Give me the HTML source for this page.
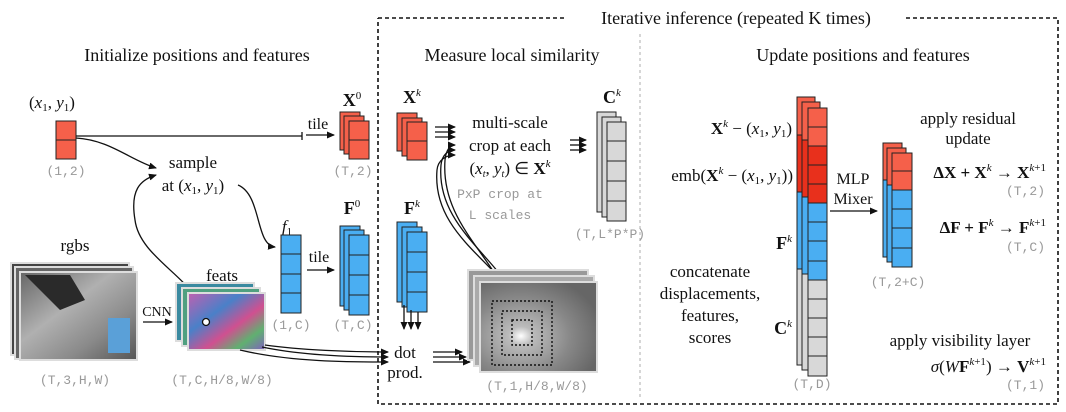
<!DOCTYPE html>
<html><head><meta charset="utf-8"><style>
body{margin:0;background:#fff}
svg{display:block}
.s{font-family:"Liberation Serif",serif;fill:#111}
.m{font-family:"Liberation Mono",monospace;fill:#999;font-size:13px}
.r{fill:#f5604a;stroke:#222;stroke-width:1}
.rd{fill:#e8301c;stroke:#222;stroke-width:1}
.b{fill:#4aaef2;stroke:#222;stroke-width:1}
.g{fill:#d8d8d8;stroke:#222;stroke-width:1}
.l{stroke:#111;stroke-width:1.3;fill:none}
</style></head><body>
<svg width="1066" height="412" viewBox="0 0 1066 412" xmlns="http://www.w3.org/2000/svg">
<defs>
<marker id="a" markerWidth="8" markerHeight="8" refX="7" refY="4" orient="auto" markerUnits="userSpaceOnUse"><path d="M0,0.5 L8,4 L0,7.5z" fill="#111"/></marker>
<linearGradient id="img1" x1="0" y1="0" x2="1" y2="1"><stop offset="0" stop-color="#666"/><stop offset="0.4" stop-color="#b0b0b0"/><stop offset="0.7" stop-color="#8a8a8a"/><stop offset="1" stop-color="#555"/></linearGradient>
<linearGradient id="img2" x1="0" y1="0" x2="1" y2="1"><stop offset="0" stop-color="#c060b0"/><stop offset="0.35" stop-color="#4a80c8"/><stop offset="0.6" stop-color="#d05090"/><stop offset="0.8" stop-color="#60b070"/><stop offset="1" stop-color="#8060c0"/></linearGradient>
<radialGradient id="img3" cx="0.35" cy="0.6" r="0.7"><stop offset="0" stop-color="#fff"/><stop offset="0.15" stop-color="#bbb"/><stop offset="0.6" stop-color="#888"/><stop offset="1" stop-color="#666"/></radialGradient>
</defs>

<!-- dashed box -->
<path d="M378,18 L566,18 M906,18 L1058,18 L1058,404 L378,404 L378,18" fill="none" stroke="#111" stroke-width="1.6" stroke-dasharray="4,3"/>
<text x="736" y="24" text-anchor="middle" class="s" font-size="18">Iterative inference (repeated K times)</text>
<line x1="640" y1="34" x2="640" y2="398" stroke="#bbb" stroke-width="1.2" stroke-dasharray="3,3"/>

<text x="197" y="61" text-anchor="middle" class="s" font-size="18">Initialize positions and features</text>
<text x="512" y="61" text-anchor="middle" class="s" font-size="18">Measure local similarity</text>
<text x="863" y="61" text-anchor="middle" class="s" font-size="18">Update positions and features</text>

<!-- (x1,y1) -->
<text x="29" y="108" class="s" font-size="17">(<tspan font-style="italic">x</tspan><tspan font-size="11" dy="3">1</tspan><tspan dy="-3">, </tspan><tspan font-style="italic">y</tspan><tspan font-size="11" dy="3">1</tspan><tspan dy="-3">)</tspan></text>
<rect x="56" y="121" width="20" height="38" class="r"/><line x1="56" y1="140" x2="76" y2="140" stroke="#222"/>
<text x="66" y="175" text-anchor="middle" class="m">(1,2)</text>
<line x1="76" y1="136" x2="302" y2="136" class="l"/><line x1="302" y1="132" x2="302" y2="140" class="l"/>
<line x1="306" y1="135" x2="334" y2="135" class="l" marker-end="url(#a)"/>
<text x="318" y="129" text-anchor="middle" class="s" font-size="16">tile</text>
<path d="M76,138 C110,140 130,160 156,168" class="l" marker-end="url(#a)"/>
<text x="193" y="168" text-anchor="middle" class="s" font-size="17">sample</text>
<text x="193" y="191" class="s" font-size="17" text-anchor="middle">at (<tspan font-style="italic">x</tspan><tspan font-size="11" dy="3">1</tspan><tspan dy="-3">, </tspan><tspan font-style="italic">y</tspan><tspan font-size="11" dy="3">1</tspan><tspan dy="-3">)</tspan></text>
<path d="M238,185 C262,195 255,245 275,247" class="l" marker-end="url(#a)"/>
<path d="M206,320 C200,280 140,260 135,220 C130,190 140,180 156,175" class="l" marker-end="url(#a)"/>

<!-- X0 -->
<text x="352" y="106" text-anchor="middle" class="s" font-size="18" font-weight="bold">X<tspan font-size="11" font-weight="normal" dy="-7">0</tspan></text>
<rect x="340" y="112" width="20" height="38" class="r"/><rect x="344" y="116" width="20" height="38" class="r"/><rect x="349" y="121" width="20" height="38" class="r"/><line x1="349" y1="140" x2="369" y2="140" stroke="#222"/>
<text x="353" y="175" text-anchor="middle" class="m">(T,2)</text>

<!-- f1 -->
<text x="287" y="232" text-anchor="middle" class="s" font-size="17" font-style="italic">f<tspan font-size="11" font-style="normal" dy="3">1</tspan></text>
<rect x="281" y="235" width="20" height="78" class="b"/>
<line x1="281" y1="254" x2="301" y2="254" stroke="#222"/><line x1="281" y1="274" x2="301" y2="274" stroke="#222"/><line x1="281" y1="293" x2="301" y2="293" stroke="#222"/>
<text x="291" y="329" text-anchor="middle" class="m">(1,C)</text>
<line x1="307" y1="270" x2="334" y2="270" class="l" marker-end="url(#a)"/>
<text x="319" y="262" text-anchor="middle" class="s" font-size="16">tile</text>
<text x="352" y="214" text-anchor="middle" class="s" font-size="18" font-weight="bold">F<tspan font-size="11" font-weight="normal" dy="-7">0</tspan></text>
<rect x="340" y="226" width="20" height="80" class="b"/><rect x="344" y="230" width="20" height="80" class="b"/><rect x="349" y="235" width="20" height="80" class="b"/>
<line x1="349" y1="255" x2="369" y2="255" stroke="#222"/><line x1="349" y1="275" x2="369" y2="275" stroke="#222"/><line x1="349" y1="295" x2="369" y2="295" stroke="#222"/>
<text x="353" y="329" text-anchor="middle" class="m">(T,C)</text>

<!-- rgbs -->
<text x="75" y="251" text-anchor="middle" class="s" font-size="17">rgbs</text>
<rect x="11" y="263" width="118" height="92" fill="#444" stroke="#ddd" stroke-width="2"/>
<rect x="15" y="267" width="118" height="92" fill="#666" stroke="#ddd" stroke-width="2"/>
<rect x="20" y="272" width="117" height="88" fill="url(#img1)" stroke="#ddd" stroke-width="2"/>
<path d="M25,275 L70,275 L85,300 L60,310 Z" fill="#2a2a2a"/>
<rect x="108" y="318" width="22" height="35" fill="#5aa0d8"/>
<text x="75" y="384" text-anchor="middle" class="m">(T,3,H,W)</text>
<text x="157" y="316" text-anchor="middle" class="s" font-size="14">CNN</text>
<line x1="143" y1="322" x2="172" y2="322" class="l" marker-end="url(#a)"/>

<!-- feats -->
<text x="222" y="281" text-anchor="middle" class="s" font-size="17">feats</text>
<rect x="176" y="283" width="78" height="58" fill="#3a8aa0" stroke="#ddd" stroke-width="2"/>
<rect x="182" y="288" width="78" height="58" fill="#50a080" stroke="#ddd" stroke-width="2"/>
<rect x="188" y="293" width="77" height="57" fill="url(#img2)" stroke="#ddd" stroke-width="2"/>
<circle cx="206" cy="322" r="3.5" fill="#fff" stroke="#111" stroke-width="1.3"/>
<text x="222" y="384" text-anchor="middle" class="m">(T,C,H/8,W/8)</text>
<path d="M265,345 C300,350 350,352 388,352" class="l" marker-end="url(#a)"/>
<path d="M262,347 C300,355 350,357 388,357" class="l" marker-end="url(#a)"/>
<path d="M240,350 C290,362 350,362 388,362" class="l" marker-end="url(#a)"/>

<!-- Xk -->
<text x="412" y="103" text-anchor="middle" class="s" font-size="18" font-weight="bold">X<tspan font-size="11" font-weight="normal" font-style="italic" dy="-7">k</tspan></text>
<rect x="397" y="113" width="20" height="38" class="r"/><rect x="402" y="118" width="20" height="38" class="r"/><rect x="407" y="122" width="20" height="38" class="r"/><line x1="407" y1="141" x2="427" y2="141" stroke="#222"/>
<line x1="435" y1="127" x2="455" y2="127" class="l" marker-end="url(#a)"/>
<line x1="435" y1="132" x2="455" y2="132" class="l" marker-end="url(#a)"/>
<line x1="435" y1="137" x2="455" y2="137" class="l" marker-end="url(#a)"/>
<path d="M520,330 C505,260 440,230 445,160 C446,150 450,145 455,145" class="l" marker-end="url(#a)"/>
<path d="M517,300 C495,255 436,225 441,165 C442,155 448,150 455,150" class="l" marker-end="url(#a)"/>
<path d="M514,297 C490,258 432,230 437,170 C438,160 446,155 455,155" class="l" marker-end="url(#a)"/>
<text x="510" y="128" text-anchor="middle" class="s" font-size="17">multi-scale</text>
<text x="510" y="151" text-anchor="middle" class="s" font-size="17">crop at each</text>
<text x="510" y="174" text-anchor="middle" class="s" font-size="17">(<tspan font-style="italic">x</tspan><tspan font-size="10" font-style="italic" dy="3">t</tspan><tspan dy="-3">, </tspan><tspan font-style="italic">y</tspan><tspan font-size="10" font-style="italic" dy="3">t</tspan><tspan dy="-3">) ∈ </tspan><tspan font-weight="bold">X</tspan><tspan font-size="11" font-style="italic" dy="-7">k</tspan></text>
<text x="500" y="198" text-anchor="middle" class="m" font-size="15">PxP crop at</text>
<text x="500" y="219" text-anchor="middle" class="m" font-size="15">L scales</text>
<line x1="570" y1="140" x2="586" y2="140" class="l" marker-end="url(#a)"/>
<line x1="570" y1="145" x2="586" y2="145" class="l" marker-end="url(#a)"/>
<line x1="570" y1="150" x2="586" y2="150" class="l" marker-end="url(#a)"/>

<!-- Ck -->
<text x="612" y="103" text-anchor="middle" class="s" font-size="18" font-weight="bold">C<tspan font-size="11" font-weight="normal" font-style="italic" dy="-7">k</tspan></text>
<rect x="597" y="112" width="19" height="100" class="g"/><rect x="602" y="117" width="19" height="100" class="g"/><rect x="607" y="122" width="19" height="99" class="g"/>
<line x1="607" y1="141" x2="626" y2="141" stroke="#222"/><line x1="607" y1="161" x2="626" y2="161" stroke="#222"/><line x1="607" y1="181" x2="626" y2="181" stroke="#222"/><line x1="607" y1="201" x2="626" y2="201" stroke="#222"/>
<text x="610" y="238" text-anchor="middle" class="m">(T,L*P*P)</text>

<!-- Fk -->
<text x="412" y="214" text-anchor="middle" class="s" font-size="18" font-weight="bold">F<tspan font-size="11" font-weight="normal" font-style="italic" dy="-7">k</tspan></text>
<rect x="397" y="222" width="20" height="80" class="b"/><rect x="402" y="227" width="20" height="80" class="b"/><rect x="407" y="232" width="20" height="80" class="b"/>
<line x1="407" y1="252" x2="427" y2="252" stroke="#222"/><line x1="407" y1="272" x2="427" y2="272" stroke="#222"/><line x1="407" y1="292" x2="427" y2="292" stroke="#222"/>
<line x1="404" y1="305" x2="404" y2="329" class="l" marker-end="url(#a)"/>
<line x1="411" y1="310" x2="411" y2="329" class="l" marker-end="url(#a)"/>
<line x1="418" y1="312" x2="418" y2="329" class="l" marker-end="url(#a)"/>
<text x="405" y="358" text-anchor="middle" class="s" font-size="17">dot</text>
<text x="405" y="378" text-anchor="middle" class="s" font-size="17">prod.</text>
<line x1="433" y1="352" x2="462" y2="352" class="l" marker-end="url(#a)"/>
<line x1="433" y1="357" x2="466" y2="357" class="l" marker-end="url(#a)"/>
<line x1="433" y1="362" x2="470" y2="362" class="l" marker-end="url(#a)"/>

<!-- similarity image -->
<rect x="468" y="270" width="120" height="90" fill="#999" stroke="#ddd" stroke-width="2"/>
<rect x="474" y="276" width="120" height="90" fill="#aaa" stroke="#ddd" stroke-width="2"/>
<rect x="480" y="282" width="117" height="90" fill="url(#img3)" stroke="#ddd" stroke-width="2"/>
<rect x="492" y="301" width="60" height="64" fill="none" stroke="#111" stroke-width="1.4" stroke-dasharray="2,2"/>
<rect x="502" y="311" width="40" height="44" fill="none" stroke="#111" stroke-width="1.4" stroke-dasharray="2,2"/>
<rect x="512" y="320" width="20" height="25" fill="none" stroke="#111" stroke-width="1.4" stroke-dasharray="2,2"/>
<text x="537" y="390" text-anchor="middle" class="m">(T,1,H/8,W/8)</text>

<!-- tall stack -->
<g>
<rect x="797" y="97" width="18" height="268" class="g"/>
<rect x="797" y="97" width="18" height="38" class="r"/><rect x="797" y="135" width="18" height="57" class="rd"/><rect x="797" y="192" width="18" height="77" class="b"/>
<rect x="802" y="102" width="18" height="268" class="g"/>
<rect x="802" y="102" width="18" height="38" class="r"/><rect x="802" y="140" width="18" height="57" class="rd"/><rect x="802" y="197" width="18" height="77" class="b"/>
<rect x="808" y="108" width="19" height="268" class="g"/>
<rect x="808" y="108" width="19" height="38" class="r"/><rect x="808" y="146" width="19" height="57" class="rd"/><rect x="808" y="203" width="19" height="77" class="b"/>
<g stroke="#222"><line x1="808" y1="127" x2="827" y2="127"/><line x1="808" y1="165" x2="827" y2="165"/><line x1="808" y1="184" x2="827" y2="184"/><line x1="808" y1="222" x2="827" y2="222"/><line x1="808" y1="241" x2="827" y2="241"/><line x1="808" y1="261" x2="827" y2="261"/><line x1="808" y1="299" x2="827" y2="299"/><line x1="808" y1="318" x2="827" y2="318"/><line x1="808" y1="337" x2="827" y2="337"/><line x1="808" y1="356" x2="827" y2="356"/></g>
</g>
<text x="812" y="388" text-anchor="middle" class="m">(T,D)</text>
<text x="792" y="134" text-anchor="end" class="s" font-size="17"><tspan font-weight="bold">X</tspan><tspan font-size="11" font-style="italic" dy="-7">k</tspan><tspan dy="7"> − (</tspan><tspan font-style="italic">x</tspan><tspan font-size="11" dy="3">1</tspan><tspan dy="-3">, </tspan><tspan font-style="italic">y</tspan><tspan font-size="11" dy="3">1</tspan><tspan dy="-3">)</tspan></text>
<text x="793" y="181" text-anchor="end" class="s" font-size="17">emb(<tspan font-weight="bold">X</tspan><tspan font-size="11" font-style="italic" dy="-7">k</tspan><tspan dy="7"> − (</tspan><tspan font-style="italic">x</tspan><tspan font-size="11" dy="3">1</tspan><tspan dy="-3">, </tspan><tspan font-style="italic">y</tspan><tspan font-size="11" dy="3">1</tspan><tspan dy="-3">))</tspan></text>
<text x="792" y="249" text-anchor="end" class="s" font-size="18" font-weight="bold">F<tspan font-size="11" font-weight="normal" font-style="italic" dy="-7">k</tspan></text>
<text x="792" y="334" text-anchor="end" class="s" font-size="18" font-weight="bold">C<tspan font-size="11" font-weight="normal" font-style="italic" dy="-7">k</tspan></text>
<text x="710" y="277" text-anchor="middle" class="s" font-size="17">concatenate</text>
<text x="710" y="299" text-anchor="middle" class="s" font-size="17">displacements,</text>
<text x="710" y="321" text-anchor="middle" class="s" font-size="17">features,</text>
<text x="710" y="343" text-anchor="middle" class="s" font-size="17">scores</text>

<text x="853" y="184" text-anchor="middle" class="s" font-size="16">MLP</text>
<text x="853" y="204" text-anchor="middle" class="s" font-size="16">Mixer</text>
<line x1="830" y1="211" x2="877" y2="211" class="l" marker-end="url(#a)"/>

<!-- small stack -->
<rect x="883" y="143" width="19" height="114" class="b"/><rect x="883" y="143" width="19" height="37" class="r"/>
<rect x="887" y="148" width="19" height="114" class="b"/><rect x="887" y="148" width="19" height="37" class="r"/>
<rect x="892" y="153" width="20" height="114" class="b"/><rect x="892" y="153" width="20" height="37" class="r"/>
<g stroke="#222"><line x1="892" y1="171" x2="912" y2="171"/><line x1="892" y1="209" x2="912" y2="209"/><line x1="892" y1="228" x2="912" y2="228"/><line x1="892" y1="248" x2="912" y2="248"/></g>
<text x="898" y="286" text-anchor="middle" class="m">(T,2+C)</text>

<text x="968" y="124" text-anchor="middle" class="s" font-size="17">apply residual</text>
<text x="968" y="144" text-anchor="middle" class="s" font-size="17">update</text>
<text x="1046" y="178" text-anchor="end" class="s" font-size="17" font-weight="bold">ΔX + X<tspan font-size="11" font-weight="normal" font-style="italic" dy="-7">k</tspan><tspan dy="7" font-weight="normal"> → </tspan>X<tspan font-size="11" font-weight="normal" font-style="italic" dy="-7">k</tspan><tspan font-size="11" font-weight="normal" dy="0">+1</tspan></text>
<text x="1045" y="195" text-anchor="end" class="m">(T,2)</text>
<text x="1046" y="233" text-anchor="end" class="s" font-size="17" font-weight="bold">ΔF + F<tspan font-size="11" font-weight="normal" font-style="italic" dy="-7">k</tspan><tspan dy="7" font-weight="normal"> → </tspan>F<tspan font-size="11" font-weight="normal" font-style="italic" dy="-7">k</tspan><tspan font-size="11" font-weight="normal">+1</tspan></text>
<text x="1045" y="251" text-anchor="end" class="m">(T,C)</text>
<text x="960" y="346" text-anchor="middle" class="s" font-size="17">apply visibility layer</text>
<text x="1046" y="372" text-anchor="end" class="s" font-size="17"><tspan font-style="italic">σ</tspan>(<tspan font-style="italic">W</tspan><tspan font-weight="bold">F</tspan><tspan font-size="11" font-style="italic" dy="-7">k</tspan><tspan font-size="11">+1</tspan><tspan dy="7">) → </tspan><tspan font-weight="bold">V</tspan><tspan font-size="11" font-style="italic" dy="-7">k</tspan><tspan font-size="11">+1</tspan></text>
<text x="1045" y="389" text-anchor="end" class="m">(T,1)</text>
</svg>
</body></html>
